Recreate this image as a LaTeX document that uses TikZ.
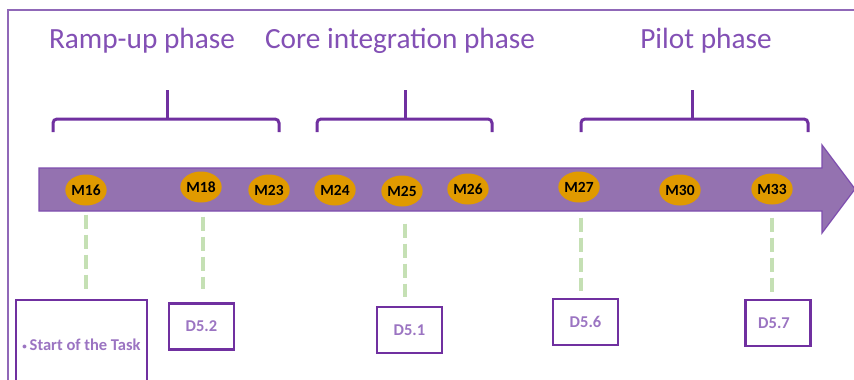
\documentclass[tikz,border=0pt]{standalone}
\usepackage{fontspec}
\setmainfont{Carlito}
\usetikzlibrary{shapes.geometric}
\definecolor{framec}{HTML}{9068B8}
\definecolor{titlec}{HTML}{8350B5}
\definecolor{bracec}{HTML}{7030A0}
\definecolor{arrowfill}{HTML}{9472B0}
\definecolor{arrowedge}{HTML}{7E4EAF}
\definecolor{mstone}{HTML}{E09A00}
\definecolor{linkc}{HTML}{C5E0B4}
\definecolor{delivc}{HTML}{9B74C2}
\tikzset{
  phasetitle/.style={anchor=base, text=titlec, font=\fontsize{29.3}{31}\selectfont, inner sep=0pt},
  phasebrace/.style={draw=bracec, line width=3pt, rounded corners=4pt},
  milestone/.style={ellipse, fill=mstone, minimum width=38pt, minimum height=31pt, inner sep=0pt,
    font=\fontsize{15.5}{16}\selectfont\bfseries},
  deliv/.style={draw=bracec, line width=2.5pt, minimum width=65pt, minimum height=46pt, inner sep=0pt,
    text=delivc, font=\fontsize{16.5}{18}\selectfont\bfseries},
  link/.style={draw=linkc, line width=4pt, dash pattern=on 14pt off 6pt}
}
\begin{document}
\begin{tikzpicture}[x=1pt, y=-1pt]
\useasboundingbox (0,0) rectangle (854,380);
\fill[white] (0,0) rectangle (854,380);

% outer frame (top and left edges)
\draw[framec, line width=2pt] (8,381) -- (8,10) -- (855,10);

% phase titles
\node[phasetitle] (t1) at (142,48) {Ramp-up phase};
\node[phasetitle] (t2) at (400,48) {Core integration phase};
\node[phasetitle] (t3) at (706,48) {Pilot phase};

% phase braces
\draw[phasebrace] (53,132) -- (53,119) -- (279,119) -- (279,132);
\draw[phasebrace] (167,119) -- (167,90);
\draw[phasebrace] (317,132) -- (317,119) -- (492,119) -- (492,132);
\draw[phasebrace] (405,119) -- (405,90);
\draw[phasebrace] (581,132) -- (581,119) -- (808,119) -- (808,132);
\draw[phasebrace] (692,119) -- (692,90);

% timeline arrow
\draw[fill=arrowfill, draw=arrowedge, line width=1.2pt, line join=miter]
  (39,168) -- (822,168) -- (822,145) -- (855,189) -- (822,233) -- (822,211) -- (39,211) -- cycle;

% milestones
\node[milestone] (m16) at (86,190) {M16};
\node[milestone] (m18) at (201,187) {M18};
\node[milestone] (m23) at (269,190) {M23};
\node[milestone] (m24) at (335,190) {M24};
\node[milestone] (m25) at (402,191) {M25};
\node[milestone] (m26) at (468,189) {M26};
\node[milestone] (m27) at (579,187) {M27};
\node[milestone] (m30) at (680,190) {M30};
\node[milestone] (m33) at (772,189) {M33};

% deliverables
\node[deliv, minimum width=131pt, minimum height=90pt] (start) at (81.5,345)
  {\raisebox{0.15ex}{\fontsize{9}{9}\selectfont\textbullet}\,Start of the Task};
\node[deliv] (d52) at (201.5,326.5) {D5.2};
\node[deliv] (d51) at (409.5,330) {D5.1};
\node[deliv] (d56) at (585.5,322) {D5.6};
\node[deliv] (d57) at (778,323) {\hspace*{-8pt}D5.7};

% links from milestones to deliverables
\draw[link, shorten <=9pt, shorten >=5pt] (m16.south) -- (m16.south |- start.north);
\draw[link, shorten <=14pt, shorten >=13pt] ([xshift=2pt]m18.south) -- ([xshift=2pt]m18.south |- d52.north);
\draw[link, shorten <=17pt, shorten >=9pt] ([xshift=3pt]m25.south) -- ([xshift=3pt]m25.south |- d51.north);
\draw[link, shorten <=15pt, shorten >=7pt] ([xshift=2pt]m27.south) -- ([xshift=2pt]m27.south |- d56.north);
\draw[link, shorten <=13pt, shorten >=7pt] (m33.south) -- (m33.south |- d57.north);
\end{tikzpicture}
\end{document}
